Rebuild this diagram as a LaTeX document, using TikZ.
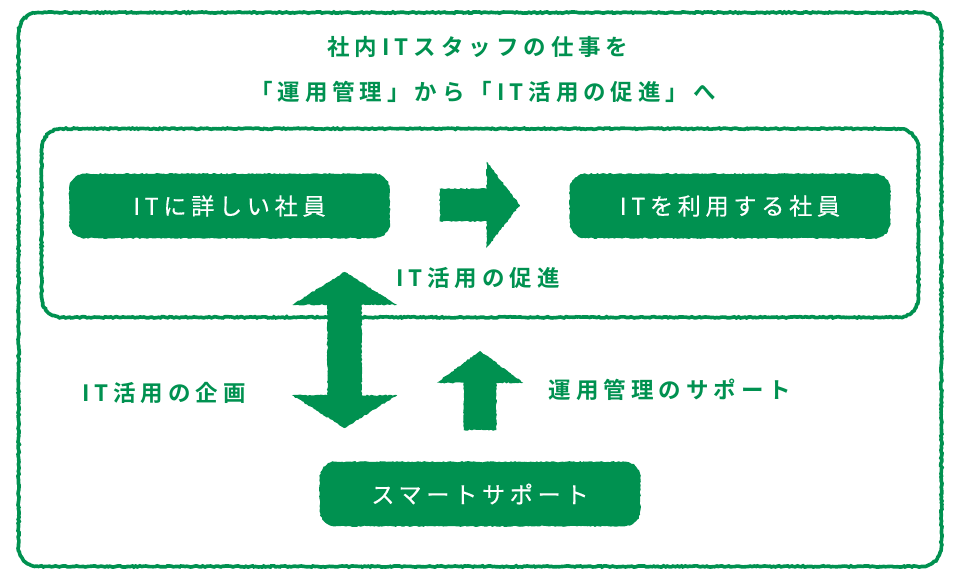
\documentclass[tikz,border=0pt]{standalone}
\usepackage{fontspec}
\setmainfont{Noto Sans CJK JP}[LetterSpace=20,FakeBold=0.4]
\newfontfamily\labelfont{Noto Sans CJK JP Bold}[LetterSpace=22]
\usetikzlibrary{backgrounds,decorations.pathmorphing,shapes.arrows}
\definecolor{greend}{RGB}{0,145,80}
\tikzset{
    rough/.style = {decorate, decoration={random steps, segment length=1.4pt, amplitude=0.45pt}},
    frameline/.style = {draw = greend, line width=2.6pt, rough},
    boxfill/.style = {fill = greend, rough},
    framenode/.style = {inner sep=0pt},
    staffbox/.style = {text = white, minimum width=8cm, minimum height=1.6cm, font=\fontsize{16.5pt}{18pt}\selectfont},
    greentext/.style = {text = greend, font=\fontsize{16pt}{18pt}\labelfont},
    blockup/.style = {single arrow, single arrow head indent=0pt, fill = greend, rough, inner xsep=0pt, inner ysep=0.4cm, rotate=90}
}
% rounded outline round a node, built with arcs so that the rough edge stays fine
\newcommand{\roughround}[3]{\path[#3] ([xshift=#2]#1.north west) -- ([xshift=-#2]#1.north east) arc[start angle=90,end angle=0,radius=#2] -- ([yshift=#2]#1.south east) arc[start angle=0,end angle=-90,radius=#2] -- ([xshift=#2]#1.south west) arc[start angle=-90,end angle=-180,radius=#2] -- ([yshift=-#2]#1.north west) arc[start angle=180,end angle=90,radius=#2] -- cycle;}

\begin{document}
\begin{tikzpicture}[x=0.025cm, y=-0.025cm]
            \useasboundingbox (0,0) rectangle (960,580);
            \node[framenode, minimum width=23.05cm, minimum height=13.83cm] (outerframe) at (480,289.5){};
            \node[framenode, minimum width=21.9cm, minimum height=4.7cm] (innerframe) at (480,223){};

            \node[staffbox] (itstaff) at (229.5,206){ITに詳しい社員};
            \node[staffbox] (itusers) at (730,206){ITを利用する社員};
            \node[staffbox] (smartsupport) at (480,494){スマートサポート};

            \begin{scope}[on background layer]
                \roughround{outerframe}{0.5cm}{frameline}
                \roughround{innerframe}{0.5cm}{frameline}
                \foreach \boxname in {itstaff,itusers,smartsupport}
                    {\roughround{\boxname}{0.4cm}{boxfill}}
            \end{scope}

            \node[blockup, rotate=-90, minimum width=2.15cm, minimum height=2cm, single arrow head extend=0.67cm, single arrow tip angle=105] (promotearrow) at (473.5,205){};
            \node[double arrow, double arrow head indent=0pt, fill = greend, rough, inner xsep=0pt, inner ysep=0.42cm, rotate=90, minimum width=2.63cm, minimum height=3.9cm, double arrow head extend=0.88cm, double arrow tip angle=116] (planarrow) at (344.5,350){};
            \node[blockup, minimum width=2.15cm, minimum height=1.98cm, single arrow head extend=0.67cm, single arrow tip angle=107] (supportarrow) at (480,396.5){};

            \node[greentext] (titletop) at (478,47){社内ITスタッフの仕事を};
            \node[greentext] (titlebottom) at (483,92){「運用管理」から「IT活用の促進」へ};
            \node[greentext] (promotelabel) at (478,278){IT活用の促進};
            \node[greentext] (planlabel) at (164,393){IT活用の企画};
            \node[greentext] (supportlabel) at (670,390){運用管理のサポート};
        \end{tikzpicture}
\end{document}
